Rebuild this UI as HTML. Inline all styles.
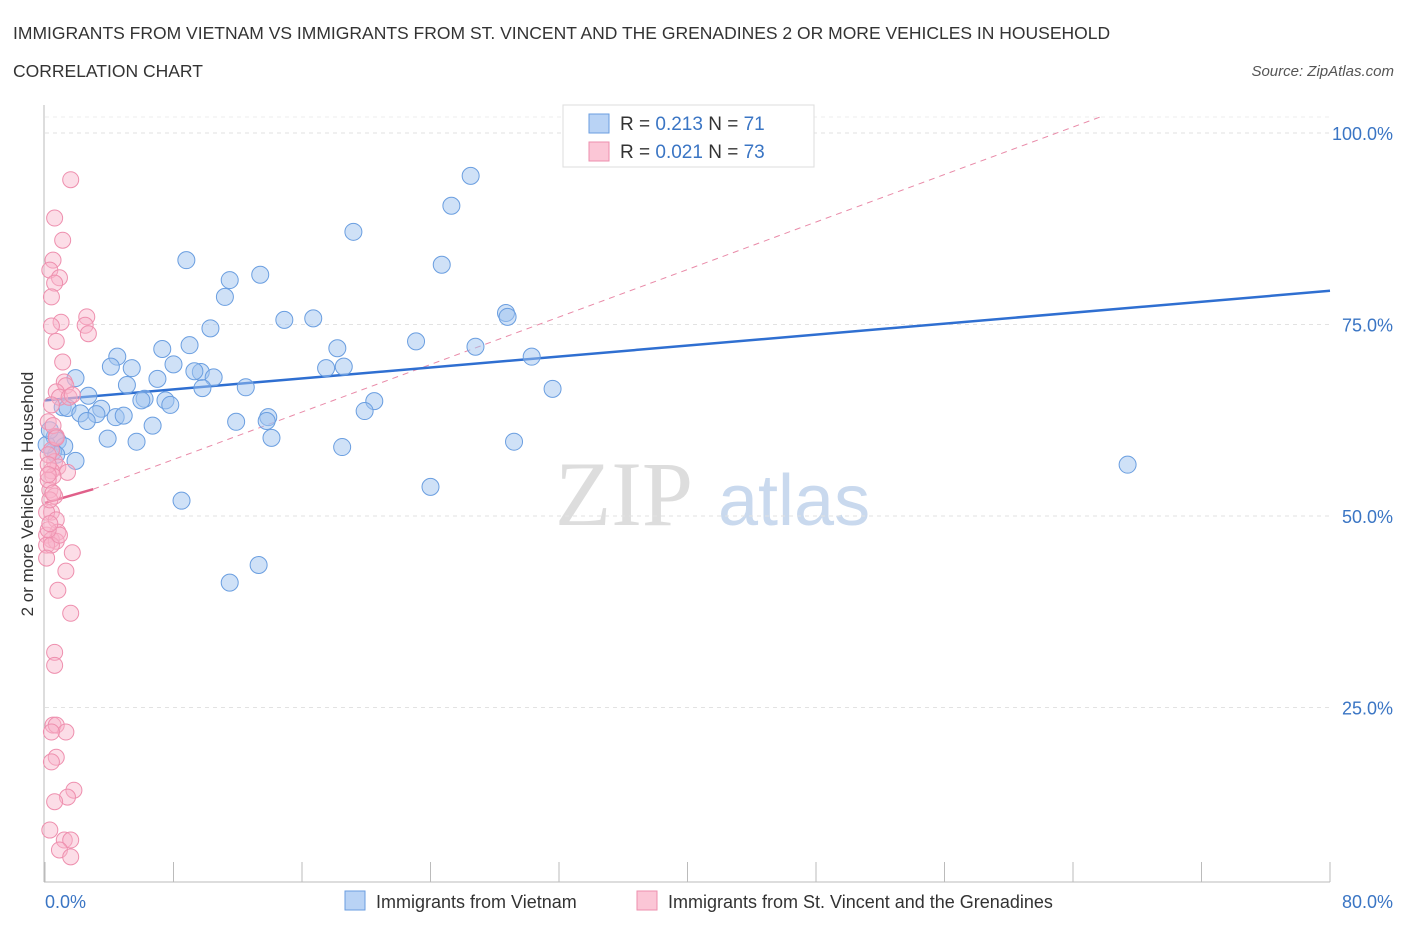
<!DOCTYPE html>
<html><head><meta charset="utf-8"><style>
body{margin:0;background:#fff;font-family:"Liberation Sans",sans-serif;}
svg{display:block}
</style></head><body>
<svg id="chart" width="1406" height="930">
<text x="13" y="39" font-size="17.5" fill="#333">IMMIGRANTS FROM VIETNAM VS IMMIGRANTS FROM ST. VINCENT AND THE GRENADINES 2 OR MORE VEHICLES IN HOUSEHOLD</text>
<text x="13" y="77" font-size="17.5" fill="#333">CORRELATION CHART</text>
<text x="1394" y="76" font-size="15" fill="#555" font-style="italic" text-anchor="end">Source: ZipAtlas.com</text>
<g><text x="555" y="525" font-size="92" fill="#ddd" font-family="Liberation Serif,serif">ZIP</text><text x="718" y="525" font-size="72" fill="#c9d9ee">atlas</text></g>
<g id="grid"></g><g id="axes"></g><g id="lines"></g><g id="pts"></g>
<text transform="translate(33,494) rotate(-90)" font-size="17" fill="#333" text-anchor="middle">2 or more Vehicles in Household</text>
<text x="45" y="908" font-size="18" fill="#3a75c4">0.0%</text>
<text x="1393" y="908" font-size="18" fill="#3a75c4" text-anchor="end">80.0%</text>
<g>
<rect x="563" y="105" width="251" height="62" fill="#fff" stroke="#ddd"/>
<rect x="589" y="114" width="20" height="19" fill="#b9d3f5" stroke="#6a9ee0"/>
<rect x="589" y="142" width="20" height="19" fill="#fbc6d6" stroke="#ee8fae"/>
<text x="620" y="130" font-size="19" fill="#333">R = <tspan fill="#3a75c4">0.213</tspan>   N = <tspan fill="#3a75c4">71</tspan></text>
<text x="620" y="158" font-size="19" fill="#333">R = <tspan fill="#3a75c4">0.021</tspan>   N = <tspan fill="#3a75c4">73</tspan></text>
</g>
<g>
<rect x="345" y="891" width="20" height="19" fill="#b9d3f5" stroke="#6a9ee0"/>
<text x="376" y="908" font-size="18" fill="#333">Immigrants from Vietnam</text>
<rect x="637" y="891" width="20" height="19" fill="#fbc6d6" stroke="#ee8fae"/>
<text x="668" y="908" font-size="18" fill="#333">Immigrants from St. Vincent and the Grenadines</text>
</g>
</svg>
<script>
const blueX=[26.5,25.3,19.2,24.7,8.8,11.5,13.4,11.2,16.7,14.9,28.7,28.8,10.3,23.1,26.8,18.2,7.3,9.0,4.5,4.1,5.4,8.0,9.7,9.3,17.5,18.6,30.3,10.5,1.9,7.0,5.1,9.8,12.5,31.6,2.7,6.2,7.5,6.0,20.5,7.8,1.1,1.4,2.2,3.5,3.2,4.4,4.9,2.6,13.9,13.8,11.9,6.7,19.9,3.9,5.7,14.1,29.2,18.5,0.6,0.8,1.2,0.5,1.9,67.4,24.0,8.5,13.3,11.5,0.7,0.1,0.3];
const blueY=[94.4,90.5,87.1,82.8,83.4,80.8,81.5,78.6,75.8,75.6,76.5,76.0,74.5,72.8,72.1,71.9,71.8,72.3,70.8,69.5,69.3,69.8,68.8,68.9,69.3,69.5,70.8,68.1,68.0,67.9,67.1,66.7,66.8,66.6,65.7,65.3,65.1,65.1,65.0,64.5,64.2,64.1,63.4,64.0,63.3,62.9,63.1,62.4,62.9,62.4,62.3,61.8,63.7,60.1,59.7,60.2,59.7,59.0,60.3,59.8,59.1,58.4,57.2,56.7,53.8,52.0,43.6,41.3,58.0,59.3,61.2];
const pinkX=[1.6,0.6,1.1,0.5,0.3,0.9,0.6,0.4,2.6,2.5,1.0,2.7,0.4,0.7,1.1,1.2,1.3,0.7,0.9,1.5,1.7,0.4,0.2,0.7,0.4,0.6,0.8,0.4,1.4,0.5,0.3,0.6,0.4,0.1,0.7,0.8,0.1,0.4,0.7,0.1,1.7,1.3,0.8,1.6,0.6,0.6,0.5,0.7,1.3,0.4,0.7,0.4,1.8,1.4,0.6,0.3,1.2,1.6,0.9,1.6,0.2,0.2,0.2,0.3,0.4,0.9,0.2,0.5,0.7,0.2,0.5,0.3,0.1];
const pinkY=[93.9,88.9,86.0,83.4,82.1,81.1,80.4,78.6,76.0,74.9,75.3,73.8,74.8,72.8,70.1,67.5,67.0,66.2,65.5,65.5,65.8,64.5,62.3,60.4,58.6,57.1,56.4,55.9,55.7,55.2,53.4,52.6,50.5,50.5,49.5,47.9,47.5,46.9,46.7,46.2,45.2,42.8,40.3,37.3,32.2,30.5,22.7,22.7,21.8,21.8,18.5,17.9,14.2,13.3,12.7,9.0,7.7,7.7,6.4,5.5,58.0,56.7,54.7,52.1,46.2,47.5,55.4,61.8,60.2,48.2,53.0,49.0,44.5];
const yTicks=[25,50,75,100];
const yTickLabels=["25.0%","50.0%","75.0%","100.0%"];
const xTicks=[0,8,16,24,32,40,48,56,64,72,80];
const blueFit=[[0,65.1],[80,79.4]];
const pinkFit=[[0,51.7],[3,53.5]];
const pinkDash=[[3,53.5],[65.7,102.1]];
const NS="http://www.w3.org/2000/svg";
const X=v=>45+v/80*1285, Y=v=>899-v/25*191.5;
function mk(tag,attrs,parent){const e=document.createElementNS(NS,tag);for(const k in attrs)e.setAttribute(k,attrs[k]);document.getElementById(parent).appendChild(e);return e;}
yTicks.forEach((t,i)=>{
 const g=mk('line',{x1:45,x2:1330,y1:Y(t),y2:Y(t),stroke:'#e2e2e2','stroke-dasharray':'4,4'},'grid');
 
 
 const l=mk('text',{x:1393,y:Y(t)+7,'font-size':18,fill:'#3a75c4','text-anchor':'end'},'grid');
 l.textContent=yTickLabels[i];
 
 
});
const tg=mk('line',{x1:45,x2:1330,y1:117,y2:117,stroke:'#eee','stroke-dasharray':'4,4'},'grid');


const ax=mk('line',{x1:44,x2:44,y1:105,y2:882,stroke:'#bbb'},'axes');


const bx=mk('line',{x1:44,x2:1330,y1:882,y2:882,stroke:'#bbb'},'axes');


xTicks.forEach(t=>{const e=mk('line',{x1:X(t),x2:X(t),y1:862,y2:882,stroke:'#bbb'},'axes');
 
 });
function ln(p,stroke,w,dash,name){const e=mk('line',{x1:X(p[0][0]),y1:Y(p[0][1]),x2:X(p[1][0]),y2:Y(p[1][1]),stroke:stroke,'stroke-width':w},'lines');if(dash)e.setAttribute('stroke-dasharray',dash);
 
 }
ln(pinkDash,'#e98aa8',1,'6,5','pink-trend-extension');
ln(blueFit,'#2f6fd1',2.5,null,'blue-trend-line');
ln(pinkFit,'#e0608a',2.5,null,'pink-trend-line');
blueX.forEach((x,i)=>{const c=mk('circle',{cx:X(x),cy:Y(blueY[i]),r:8.5,fill:'rgba(160,196,240,0.5)',stroke:'#6a9ee0','stroke-width':1},'pts');
 
 });
pinkX.forEach((x,i)=>{const c=mk('circle',{cx:X(x),cy:Y(pinkY[i]),r:8,fill:'rgba(248,180,202,0.45)',stroke:'#ee8fae','stroke-width':1},'pts');
 
 });
</script>
</body></html>
